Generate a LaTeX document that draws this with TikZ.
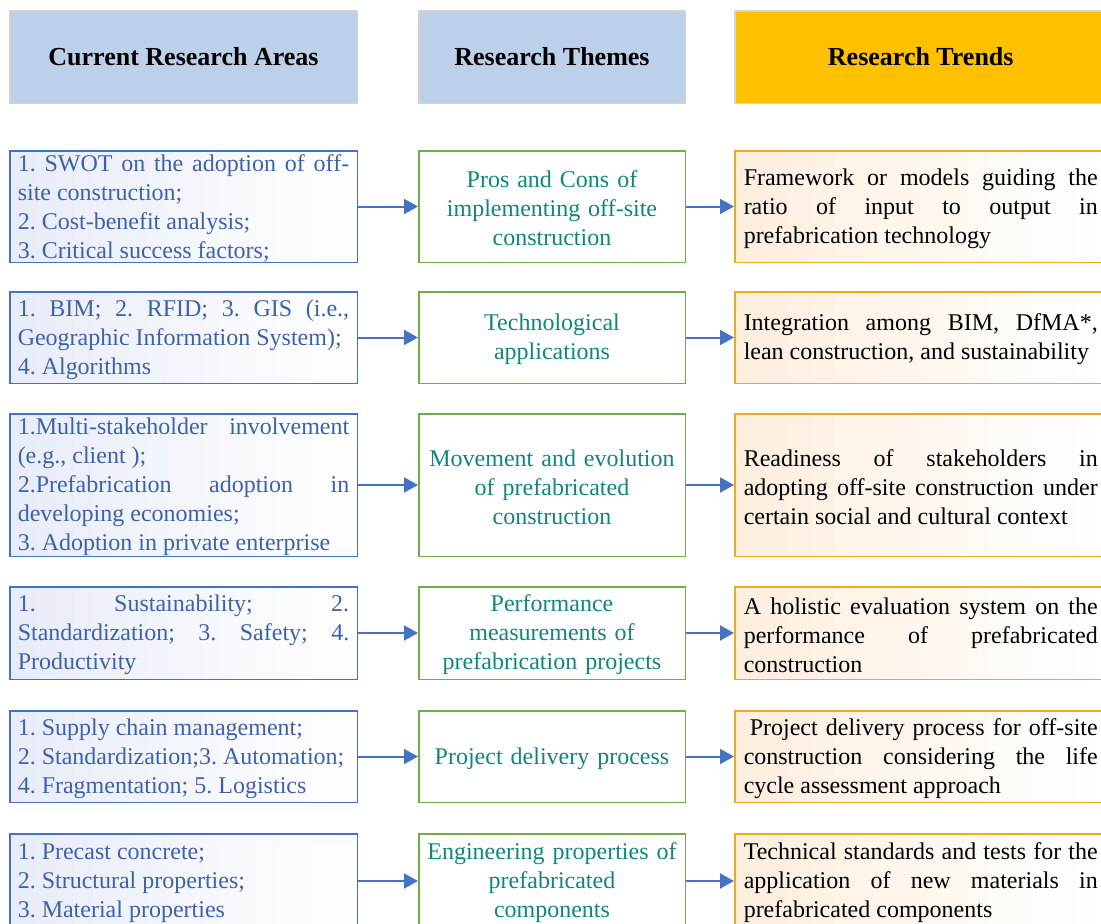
\documentclass[tikz,border=0pt]{standalone}
\usepackage{fontspec}
\setmainfont{Liberation Serif}
\usetikzlibrary{positioning}
\usetikzlibrary{arrows.meta}
\frenchspacing

\definecolor{headblue}{RGB}{189,208,233}
\definecolor{headgray}{RGB}{212,212,212}
\definecolor{headgold}{RGB}{255,192,0}
\definecolor{areablue}{RGB}{68,114,196}
\definecolor{areatext}{RGB}{62,98,170}
\definecolor{areatint}{RGB}{232,236,248}
\definecolor{themegreen}{RGB}{112,173,71}
\definecolor{themetext}{RGB}{16,134,124}
\definecolor{trendgold}{RGB}{232,172,30}
\definecolor{trendtint}{RGB}{253,238,222}

\begin{document}
\begin{tikzpicture}[x=1pt, y=1pt,
	head/.style={draw=headgray, line width=1.5pt, minimum height=92.5pt, inner sep=0pt, font=\fontsize{26}{30}\selectfont\bfseries},
	box/.style={line width=1.5pt, inner ysep=0pt, text height=20.5pt, font=\fontsize{24}{29}\selectfont},
	area/.style={box, draw=areablue, left color=areatint, right color=white, text=areatext, text width=331.5pt, inner xsep=8pt, align=justify},
	theme/.style={box, draw=themegreen, fill=white, text=themetext, text width=250.5pt, inner xsep=8pt, align=center},
	trend/.style={box, draw=trendgold, left color=trendtint, right color=white, text=black, text width=354pt, inner xsep=9pt, align=justify},
	link/.style={draw=areablue, line width=2pt, -{Triangle[length=14pt,width=15pt]}}]
	\useasboundingbox (0,0) rectangle (1101,-924);

	% column headers
	\node [head, fill=headblue, minimum width=347.5pt, anchor=north west] (hArea) at (9,-10) {Current Research Areas};
	\node [head, fill=headblue, minimum width=266.5pt, right=60pt of hArea] (hTheme) {Research Themes};
	\node [head, fill=headgold, minimum width=372pt, right=48pt of hTheme] (hTrend) {Research Trends};

	% row 1
	\node [area, minimum height=111.5pt, below=46pt of hArea] (area1) {1. SWOT on the adoption of off-\linebreak site construction;\\ 2. Cost-benefit analysis;\\ 3. Critical success factors;};
	\node [theme, minimum height=111.5pt, right=60pt of area1] (theme1) {Pros and Cons of\\ implementing off-site\\ construction};
	\node [trend, minimum height=111.5pt, right=48pt of theme1] (trend1) {Framework or models guiding the\linebreak ratio of input to output in\linebreak prefabrication technology};

	% row 2
	\node [area, minimum height=91.5pt, below=28pt of area1] (area2) {1. BIM; 2. RFID; 3. GIS (i.e.,\linebreak Geographic Information System);\\ 4. Algorithms};
	\node [theme, minimum height=91.5pt, right=60pt of area2] (theme2) {Technological\\ applications};
	\node [trend, minimum height=91.5pt, right=48pt of theme2] (trend2) {Integration among BIM, DfMA*,\linebreak lean construction, and sustainability};

	% row 3
	\node [area, minimum height=142.5pt, below=29pt of area2] (area3) {1.Multi-stakeholder involvement\linebreak (e.g., client );\\ 2.Prefabrication adoption in\linebreak developing economies;\\ 3. Adoption in private enterprise};
	\node [theme, minimum height=142.5pt, right=60pt of area3] (theme3) {Movement and evolution\\ of prefabricated\\ construction};
	\node [trend, minimum height=142.5pt, right=48pt of theme3] (trend3) {Readiness of stakeholders in\linebreak adopting off-site construction under\linebreak certain social and cultural context};

	% row 4
	\node [area, minimum height=92.5pt, below=29pt of area3] (area4) {1. Sustainability; 2.\linebreak Standardization; 3. Safety; 4.\linebreak Productivity};
	\node [theme, minimum height=92.5pt, right=60pt of area4] (theme4) {Performance\\ measurements of\\ prefabrication projects};
	\node [trend, minimum height=92.5pt, right=48pt of theme4] (trend4) {A holistic evaluation system on the\linebreak performance of prefabricated\linebreak construction};

	% row 5
	\node [area, minimum height=91.5pt, below=30pt of area4] (area5) {1. Supply chain management;\\ 2. Standardization;3. Automation;\\ 4. Fragmentation; 5. Logistics};
	\node [theme, minimum height=91.5pt, right=60pt of area5] (theme5) {Project delivery process};
	\node [trend, minimum height=91.5pt, right=48pt of theme5] (trend5) {\hspace*{6pt}Project delivery process for off-site\linebreak construction considering the life\linebreak cycle assessment approach};

	% row 6
	\node [area, minimum height=94.5pt, below=30pt of area5] (area6) {1. Precast concrete;\\ 2. Structural properties;\\ 3. Material properties};
	\node [theme, minimum height=94.5pt, right=60pt of area6] (theme6) {Engineering properties of\\ prefabricated\\ components};
	\node [trend, minimum height=94.5pt, right=48pt of theme6] (trend6) {Technical standards and tests for the\linebreak application of new materials in\linebreak prefabricated components};

	% arrows
	\foreach \i in {1,...,6} {
		\draw [link] (area\i) -- (theme\i);
		\draw [link] (theme\i) -- (trend\i);
	}
\end{tikzpicture}
\end{document}
